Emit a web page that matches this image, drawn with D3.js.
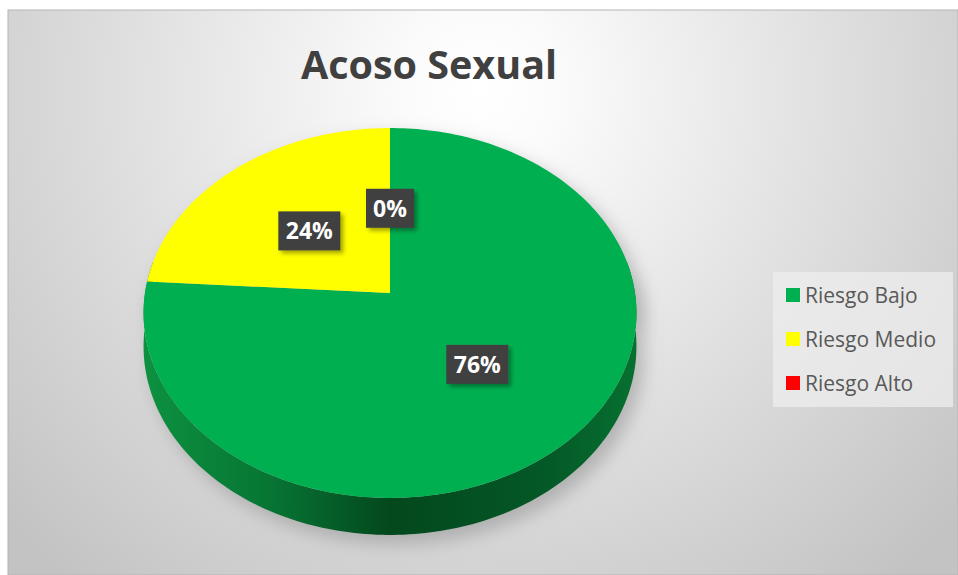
<!DOCTYPE html>
<html>
<head>
	<style>
	body {
		margin: 0;
		background: #fff;
	}
	text { font-family: "Open Sans", "Noto Sans", sans-serif; }
	</style>
</head>
<body>
	<script src="https://d3js.org/d3.v7.min.js"></script>
	<script>
	var categories = ["Riesgo Bajo", "Riesgo Medio", "Riesgo Alto"];
	var values = [76, 24, 0];
	var labels = ["76%", "24%", "0%"];
	var colors = ["#00b050", "#ffff00", "#ff0000"];
	var title = "Acoso Sexual";

	var width = 958, height = 575;

	var svg = d3.select("body").append("svg")
		.attr("width", width)
		.attr("height", height);

	var defs = svg.append("defs");

	var bg = defs.append("radialGradient")
		.attr("id", "bg")
		.attr("gradientUnits", "userSpaceOnUse")
		.attr("cx", 480).attr("cy", 90).attr("r", 640);
	bg.append("stop").attr("offset", 0).attr("stop-color", "#ffffff");
	bg.append("stop").attr("offset", 0.12).attr("stop-color", "#fbfbfb");
	bg.append("stop").attr("offset", 1).attr("stop-color", "#c3c3c3");

	var side = defs.append("linearGradient")
		.attr("id", "side")
		.attr("x1", 0).attr("x2", 1).attr("y1", 0).attr("y2", 0);
	side.append("stop").attr("offset", 0).attr("stop-color", "#0d9140");
	side.append("stop").attr("offset", 0.25).attr("stop-color", "#077634");
	side.append("stop").attr("offset", 0.5).attr("stop-color", "#03481d");
	side.append("stop").attr("offset", 0.8).attr("stop-color", "#045726");
	side.append("stop").attr("offset", 1).attr("stop-color", "#067030");

	var blur = defs.append("filter").attr("id", "blur")
		.attr("x", "-20%").attr("y", "-20%").attr("width", "140%").attr("height", "140%");
	blur.append("feGaussianBlur").attr("stdDeviation", 9);

	var lblShadow = defs.append("filter").attr("id", "lblShadow")
		.attr("x", "-30%").attr("y", "-30%").attr("width", "170%").attr("height", "170%");
	lblShadow.append("feDropShadow")
		.attr("dx", 3).attr("dy", 3).attr("stdDeviation", 2)
		.attr("flood-color", "#000").attr("flood-opacity", 0.35);

	// chart area
	svg.append("rect")
		.attr("x", 8).attr("y", 10)
		.attr("width", width - 8).attr("height", height - 10)
		.attr("fill", "url(#bg)")
		.attr("stroke", "#b5b5b5")
		.attr("stroke-width", 1);

	svg.append("text")
		.attr("x", 429).attr("y", 79)
		.attr("text-anchor", "middle")
		.style("font-size", "39.5px")
		.style("font-weight", "bold")
		.style("fill", "#404040")
		.text(title);

	// pie projected in perspective
	var cx = 390, cy = 293, rx = 245, ry = 182.8, persp = 0.108, depth = 33;

	function project(angle, f, down) {
		var u = Math.sin(angle) * f, v = Math.cos(angle) * f;
		var w = 1 + persp * v;
		return [cx + rx * u / w, cy - ry * v / w + (down ? depth / w : 0)];
	}

	var pie = d3.pie().sort(null).startAngle(0).endAngle(2 * Math.PI);
	var arcs = pie(values);
	var line = d3.line();

	function arcPoints(a0, a1, down) {
		var n = Math.max(2, Math.ceil(Math.abs(a1 - a0) / 0.02));
		return d3.range(n + 1).map(function(i) {
			return project(a0 + (a1 - a0) * i / n, 1, down);
		});
	}

	// side band (front half)
	var s0 = 80 * Math.PI / 180, s1 = 280 * Math.PI / 180;
	var sidePts = arcPoints(s0, s1, false).concat(arcPoints(s1, s0, true));

	// outer shadow
	var shadowPts = arcPoints(0, 2 * Math.PI, false);
	svg.append("g")
		.attr("transform", "translate(7,9)")
		.attr("filter", "url(#blur)")
		.selectAll("path")
		.data([shadowPts, sidePts])
		.join("path")
		.attr("d", function(d) { return line(d) + "Z"; })
		.attr("fill", "#8c8c8c")
		.attr("opacity", 0.55);

	svg.append("path")
		.attr("d", line(sidePts) + "Z")
		.attr("fill", "url(#side)");

	// top faces
	svg.append("g").selectAll("path")
		.data(arcs.filter(function(d) { return d.endAngle > d.startAngle; }))
		.join("path")
		.attr("d", function(d) {
			return line([[cx, cy]].concat(arcPoints(d.startAngle, d.endAngle, false))) + "Z";
		})
		.attr("fill", function(d) { return colors[d.index]; });

	// data labels
	var lbl = svg.append("g").selectAll("g")
		.data(arcs)
		.join("g")
		.attr("transform", function(d) {
			var p = project((d.startAngle + d.endAngle) / 2, 0.5, false);
			return "translate(" + p[0] + "," + (p[1] + 2) + ")";
		});

	lbl.append("rect")
		.attr("x", function(d) { return d.value > 0 ? -31 : -24; })
		.attr("y", -19.5)
		.attr("width", function(d) { return d.value > 0 ? 62 : 48; })
		.attr("height", 39)
		.attr("fill", "#404040")
		.attr("filter", "url(#lblShadow)");

	lbl.append("text")
		.attr("text-anchor", "middle")
		.attr("dy", "0.36em")
		.style("font-size", "23px")
		.style("font-weight", "bold")
		.style("fill", "#ffffff")
		.text(function(d) { return labels[d.index]; });

	// legend
	var legend = svg.append("g").attr("transform", "translate(773,272)");
	legend.append("rect")
		.attr("width", 180).attr("height", 135)
		.attr("fill", "#ededed")
		.attr("opacity", 0.75);

	var y = d3.scalePoint().domain(categories).range([23, 111]);

	var item = legend.selectAll("g.item")
		.data(categories)
		.join("g")
		.attr("class", "item")
		.attr("transform", function(d) { return "translate(0," + y(d) + ")"; });

	item.append("rect")
		.attr("x", 13).attr("y", -7)
		.attr("width", 14).attr("height", 14)
		.attr("fill", function(d, i) { return colors[i]; });

	item.append("text")
		.attr("x", 32).attr("dy", "0.36em")
		.style("font-size", "21px")
		.style("fill", "#595959")
		.text(function(d) { return d; });
	</script>
</body>
</html>
